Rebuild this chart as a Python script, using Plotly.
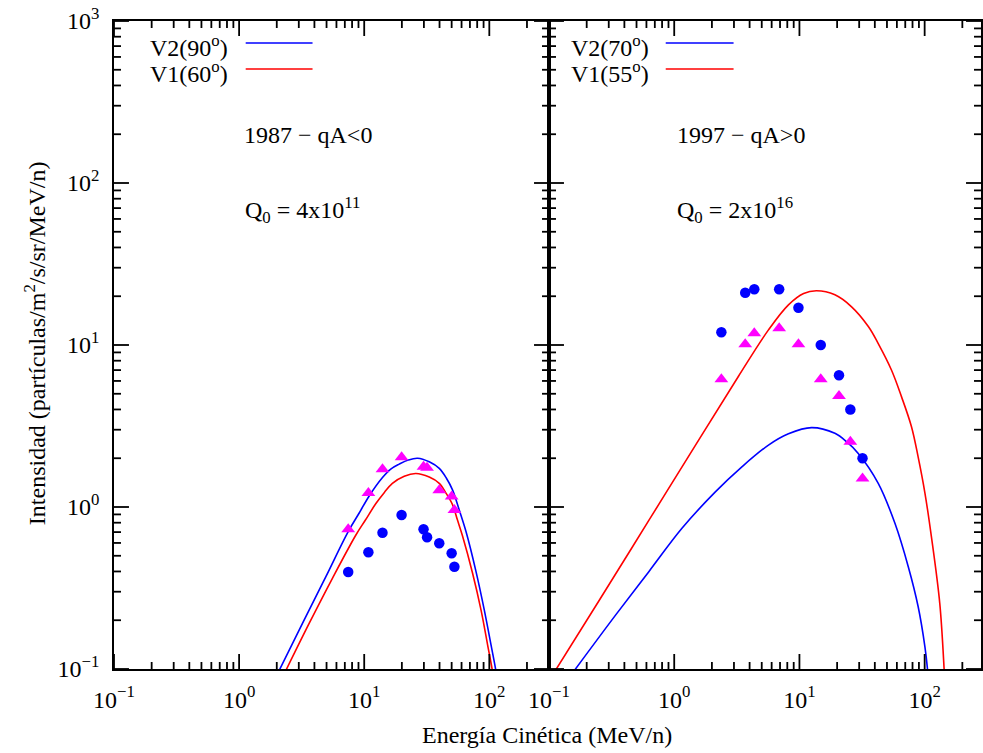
import math
import plotly.graph_objects as go

# ---- 1987 (qA<0): model spectra ----
e87_v2 = [1.98, 3.21, 4.94, 7.45, 9.12, 10.96, 14.0, 16.4, 19.05, 22.5, 26.7, 33.1, 39.8, 45.3, 50.9,
          57.5, 65.1, 78.3, 91.2, 103.2, 113.2, 118.0]
j87_v2 = [0.090, 0.191, 0.372, 0.705, 0.918, 1.17, 1.52, 1.72, 1.84, 1.95, 2.00, 1.90, 1.73, 1.51, 1.27,
          0.957, 0.705, 0.399, 0.231, 0.141, 0.096, 0.074]
e87_v1 = [2.21, 3.63, 5.57, 8.58, 10.2, 12.4, 14.5, 16.8, 20.9, 25.9, 33.1, 39.8, 45.3, 50.9, 55.5,
          61.1, 73.5, 85.9, 96.9, 106.2, 110.7]
j87_v1 = [0.088, 0.191, 0.363, 0.672, 0.828, 1.05, 1.23, 1.40, 1.55, 1.61, 1.53, 1.40, 1.21, 1.03, 0.836,
          0.662, 0.39, 0.231, 0.141, 0.096, 0.074]

# ---- 1987: measured intensities ----
e87_obs = [7.45, 10.8, 14.0, 19.9, 29.8, 31.8, 39.8, 50.0, 52.6]
j87_tri = [0.728, 1.22, 1.71, 2.03, 1.77, 1.75, 1.27, 1.16, 0.957]
j87_dot = [0.397, 0.525, 0.694, 0.893, 0.728, 0.650, 0.597, 0.518, 0.428]

# ---- 1997 (qA>0): model spectra ----
e97_v2 = [0.150, 0.340, 0.627, 1.153, 2.13, 3.47, 5.66, 8.17, 12.5, 19.2, 23.8, 29.5, 42.6, 57.9,
          74.0, 88.7, 100.5, 105.2, 108.4]
j97_v2 = [0.0918, 0.215, 0.399, 0.739, 1.24, 1.77, 2.41, 2.83, 3.09, 2.85, 2.53, 2.14, 1.40, 0.793,
          0.428, 0.243, 0.137, 0.101, 0.074]
e97_v1 = [0.1056, 0.25, 0.627, 1.567, 3.27, 5.66, 8.17, 10.8, 13.7, 19.2, 26.1, 35.5, 42.6, 54.3,
          65.3, 78.5, 88.7, 100.5, 113.2, 132.0, 142.9, 145.5]
j97_v1 = [0.0906, 0.263, 0.826, 2.59, 6.44, 12.4, 17.7, 20.8, 21.6, 20.4, 17.2, 13.0, 10.2, 7.01,
          4.80, 3.13, 2.04, 1.22, 0.656, 0.255, 0.101, 0.074]

# ---- 1997: measured intensities ----
e97_obs = [2.38, 3.69, 4.36, 6.89, 9.82, 14.8, 20.7, 25.5, 31.9]
j97_dot = [12.0, 21.0, 22.1, 22.1, 17.0, 10.0, 6.5, 4.0, 2.0]
j97_tri = [6.14, 10.1, 11.8, 12.7, 10.1, 6.14, 4.84, 2.53, 1.50]

# ---- tick labels ----
x_major = [0.1, 1, 10, 100]
x_major_text = ["10<sup>−1</sup>", "10<sup>0</sup>", "10<sup>1</sup>", "10<sup>2</sup>"]
y_major = [0.1, 1, 10, 100, 1000]
y_major_text = ["10<sup>−1</sup>", "10<sup>0</sup>", "10<sup>1</sup>", "10<sup>2</sup>", "10<sup>3</sup>"]
minor_vals = [m * 10.0 ** k for k in range(-1, 3) for m in range(2, 10)]

legend_left = ["V2(90<sup>o</sup>)", "V1(60<sup>o</sup>)"]
legend_right = ["V2(70<sup>o</sup>)", "V1(55<sup>o</sup>)"]

BLUE = "rgb(0,0,255)"
RED = "rgb(255,0,0)"
MAGENTA = "rgb(255,0,255)"
FONT = "Liberation Serif, Times New Roman, serif"

W, H = 983, 753
ML, MR, MT, MB = 114, 0, 21, 84
split = 550  # pixel column shared by the two panels
X_RANGE_LEFT = [-1, 2.4771]
X_RANGE_RIGHT = [-1, 2.45]
Y_RANGE = [-1, 3]
MAJOR_LEN, MINOR_LEN = 15, 7
PLOT_W = W - ML - MR
PLOT_H = H - MT - MB


def fx(p):
    return (p - ML) / PLOT_W


def fy(p):
    return (H - MB - p) / PLOT_H


fig = go.Figure()

line_style = dict(width=1.6, shape="spline", smoothing=1.0)


def add_panel(xa, ya, e_v2, j_v2, e_v1, j_v1, e_obs, j_tri, j_dot):
    fig.add_trace(go.Scatter(x=e_v2, y=j_v2, mode="lines", line=dict(color=BLUE, **line_style),
                             xaxis=xa, yaxis=ya, showlegend=False))
    fig.add_trace(go.Scatter(x=e_v1, y=j_v1, mode="lines", line=dict(color=RED, **line_style),
                             xaxis=xa, yaxis=ya, showlegend=False))
    fig.add_trace(go.Scatter(x=e_obs, y=j_tri, mode="markers",
                             marker=dict(symbol="triangle-up", size=12, color=MAGENTA),
                             xaxis=xa, yaxis=ya, showlegend=False))
    fig.add_trace(go.Scatter(x=e_obs, y=j_dot, mode="markers",
                             marker=dict(symbol="circle", size=10.5, color=BLUE),
                             xaxis=xa, yaxis=ya, showlegend=False))


add_panel("x", "y", e87_v2, j87_v2, e87_v1, j87_v1, e87_obs, j87_tri, j87_dot)
add_panel("x2", "y2", e97_v2, j97_v2, e97_v1, j97_v1, e97_obs, j97_tri, j97_dot)

axis_style = dict(type="log", showline=True, linecolor="black", linewidth=1.5,
                  mirror=True, ticks="", showgrid=False, zeroline=False,
                  tickfont=dict(family=FONT, size=24, color="black"),
                  ticklabelstandoff=8, tickmode="array")

split_frac = fx(split)
fig.update_layout(
    width=W, height=H,
    margin=dict(l=ML, r=MR, t=MT, b=MB),
    paper_bgcolor="white", plot_bgcolor="white",
    xaxis=dict(domain=[0, split_frac], range=X_RANGE_LEFT, anchor="y",
               tickvals=x_major, ticktext=x_major_text, **axis_style),
    xaxis2=dict(domain=[split_frac, 1], range=X_RANGE_RIGHT, anchor="y2",
                tickvals=x_major, ticktext=x_major_text, **axis_style),
    yaxis=dict(domain=[0, 1], range=Y_RANGE, anchor="x",
               tickvals=y_major, ticktext=y_major_text, **axis_style),
    yaxis2=dict(domain=[0, 1], range=Y_RANGE, anchor="x2", showticklabels=False,
                tickvals=y_major, **axis_style),
)

shapes = []
tick_line = dict(color="black", width=1.8)


def panel_ticks(left_px, right_px, xrange_log):
    """Inward major/minor tick marks on the four sides of one panel (pixel layout -> paper)."""
    top_px, bottom_px = MT, H - MB
    span = xrange_log[1] - xrange_log[0]

    def xpix(v):
        return left_px + (math.log10(v) - xrange_log[0]) / span * (right_px - left_px)

    def ypix(v):
        return bottom_px - (math.log10(v) - Y_RANGE[0]) / (Y_RANGE[1] - Y_RANGE[0]) * (bottom_px - top_px)

    for vals, ln in ((x_major, MAJOR_LEN), (minor_vals, MINOR_LEN)):
        for v in vals:
            p = xpix(v)
            if p < left_px - 0.5 or p > right_px:
                continue
            for a, b in ((bottom_px, bottom_px - ln), (top_px, top_px + ln)):
                shapes.append(dict(type="line", xref="paper", yref="paper",
                                   x0=fx(p), x1=fx(p), y0=fy(a), y1=fy(b), line=tick_line))
    for vals, ln in ((y_major, MAJOR_LEN), (minor_vals, MINOR_LEN)):
        for v in vals:
            q = ypix(v)
            for a, b in ((left_px, left_px + ln), (right_px, right_px - ln)):
                shapes.append(dict(type="line", xref="paper", yref="paper",
                                   x0=fx(a), x1=fx(b), y0=fy(q), y1=fy(q), line=tick_line))


panel_ticks(ML, split, X_RANGE_LEFT)
panel_ticks(split, W - MR, X_RANGE_RIGHT)

text_font = dict(family=FONT, size=24, color="black")
annotations = []

# legends (text on the left, line sample on the right)
for labels, text_right, seg in ((legend_left, 230, (246, 313)), (legend_right, 652, (667, 735))):
    for label, color, yy in zip(labels, (BLUE, RED), (43, 69)):
        annotations.append(dict(x=fx(text_right), y=fy(yy + 3), xref="paper", yref="paper",
                                text=label, showarrow=False, xanchor="right", yanchor="middle",
                                font=text_font))
        shapes.append(dict(type="line", xref="paper", yref="paper",
                           x0=fx(seg[0]), x1=fx(seg[1]), y0=fy(yy), y1=fy(yy),
                           line=dict(color=color, width=1.6)))

# panel notes
for txt, xx, yy in (("1987 − qA<0", 242, 135),
                    ("Q<sub>0</sub> = 4x10<sup>11</sup>", 243, 210),
                    ("1997 − qA>0", 676, 135),
                    ("Q<sub>0</sub> = 2x10<sup>16</sup>", 676, 210)):
    annotations.append(dict(x=fx(xx), y=fy(yy), xref="paper", yref="paper", text=txt,
                            showarrow=False, xanchor="left", yanchor="middle", font=text_font))

# axis titles
annotations.append(dict(x=fx(548), y=fy(735), xref="paper", yref="paper",
                        text="Energía Cinética (MeV/n)", showarrow=False,
                        xanchor="center", yanchor="middle", font=text_font))
annotations.append(dict(x=fx(35), y=fy(343), xref="paper", yref="paper",
                        text="Intensidad (partículas/m<sup>2</sup>/s/sr/MeV/n)", showarrow=False,
                        textangle=-90, xanchor="center", yanchor="middle", font=text_font))

fig.update_layout(annotations=annotations, shapes=shapes)

fig.write_html("out.html")
